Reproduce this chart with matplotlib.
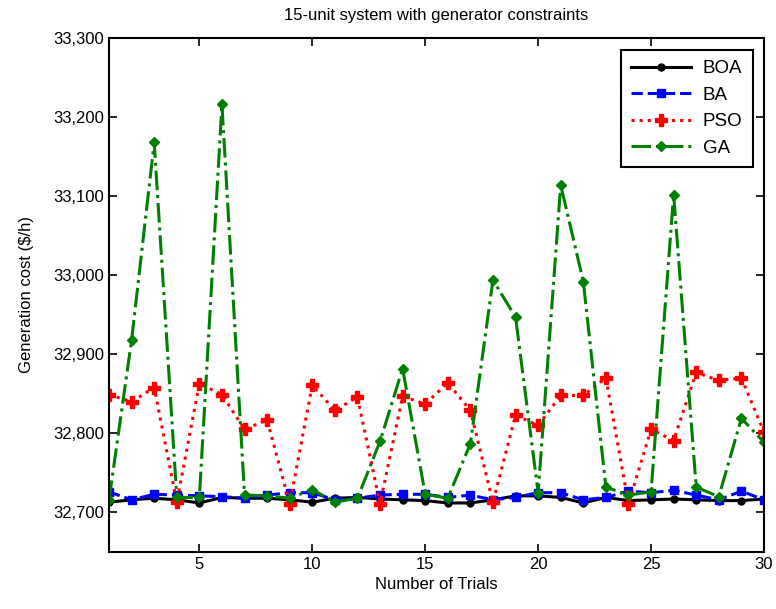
import matplotlib
matplotlib.use('Agg')
import matplotlib.pyplot as plt
from matplotlib.ticker import FuncFormatter

plt.rcParams['font.family'] = ['Liberation Sans', 'DejaVu Sans']

trials = list(range(1, 31))

boa = [32713, 32716, 32718, 32716, 32712, 32719, 32718, 32718, 32716, 32713,
       32718, 32719, 32717, 32716, 32715, 32712, 32712, 32716, 32721, 32721,
       32719, 32712, 32719, 32715, 32716, 32717, 32716, 32715, 32715, 32717]
ba = [32726, 32716, 32723, 32722, 32721, 32720, 32718, 32722, 32725, 32725,
      32716, 32718, 32722, 32723, 32723, 32719, 32722, 32716, 32719, 32725,
      32725, 32716, 32719, 32727, 32725, 32728, 32722, 32716, 32727, 32716]
pso = [32849, 32840, 32858, 32713, 32863, 32849, 32805, 32817, 32711, 32861,
       32829, 32846, 32711, 32847, 32837, 32864, 32829, 32713, 32823, 32810,
       32848, 32848, 32870, 32711, 32805, 32791, 32877, 32867, 32870, 32802]
ga = [32716, 32918, 33168, 32719, 32719, 33216, 32722, 32721, 32718, 32729,
      32713, 32718, 32790, 32882, 32723, 32718, 32787, 32994, 32947, 32725,
      33114, 32992, 32732, 32722, 32726, 33102, 32732, 32720, 32819, 32789]

fig = plt.figure(figsize=(7.76, 6.09), dpi=100)
ax = fig.add_axes([0.1405, 0.0936, 0.844, 0.844])

ax.plot(trials, boa, color='black', ls='-', lw=2.2, marker='o', ms=5, label='BOA')
ax.plot(trials, ba, color='blue', ls='--', lw=2.2, marker='s', ms=6, label='BA')
ax.plot(trials, pso, color='red', ls=':', lw=2.2, marker='P', ms=8, label='PSO')
ax.plot(trials, ga, color='green', ls='-.', lw=2.2, marker='D', ms=5, label='GA')

ax.set_xlim(1, 30)
ax.set_ylim(32650, 33300)
ax.set_xticks([5, 10, 15, 20, 25, 30])
ax.set_yticks(range(32700, 33301, 100))
ax.yaxis.set_major_formatter(FuncFormatter(lambda v, p: '{:,.0f}'.format(v)))
ax.tick_params(direction='in', top=True, right=True, labelsize=12, length=6, width=1.2)
for s in ax.spines.values():
    s.set_linewidth(1.5)

ax.set_title('15-unit system with generator constraints', fontsize=12, pad=13)
ax.set_xlabel('Number of Trials', fontsize=12, labelpad=4)
ax.set_ylabel('Generation cost ($/h)', fontsize=12, labelpad=14)

leg = ax.legend(loc='upper right', fontsize=13.5, fancybox=False, edgecolor='black',
                framealpha=1, handlelength=3.2, handletextpad=0.6, borderpad=0.55,
                labelspacing=0.5, bbox_to_anchor=(0.997, 0.995))
leg.get_frame().set_linewidth(1.5)

fig.savefig('out.png', dpi=100)
